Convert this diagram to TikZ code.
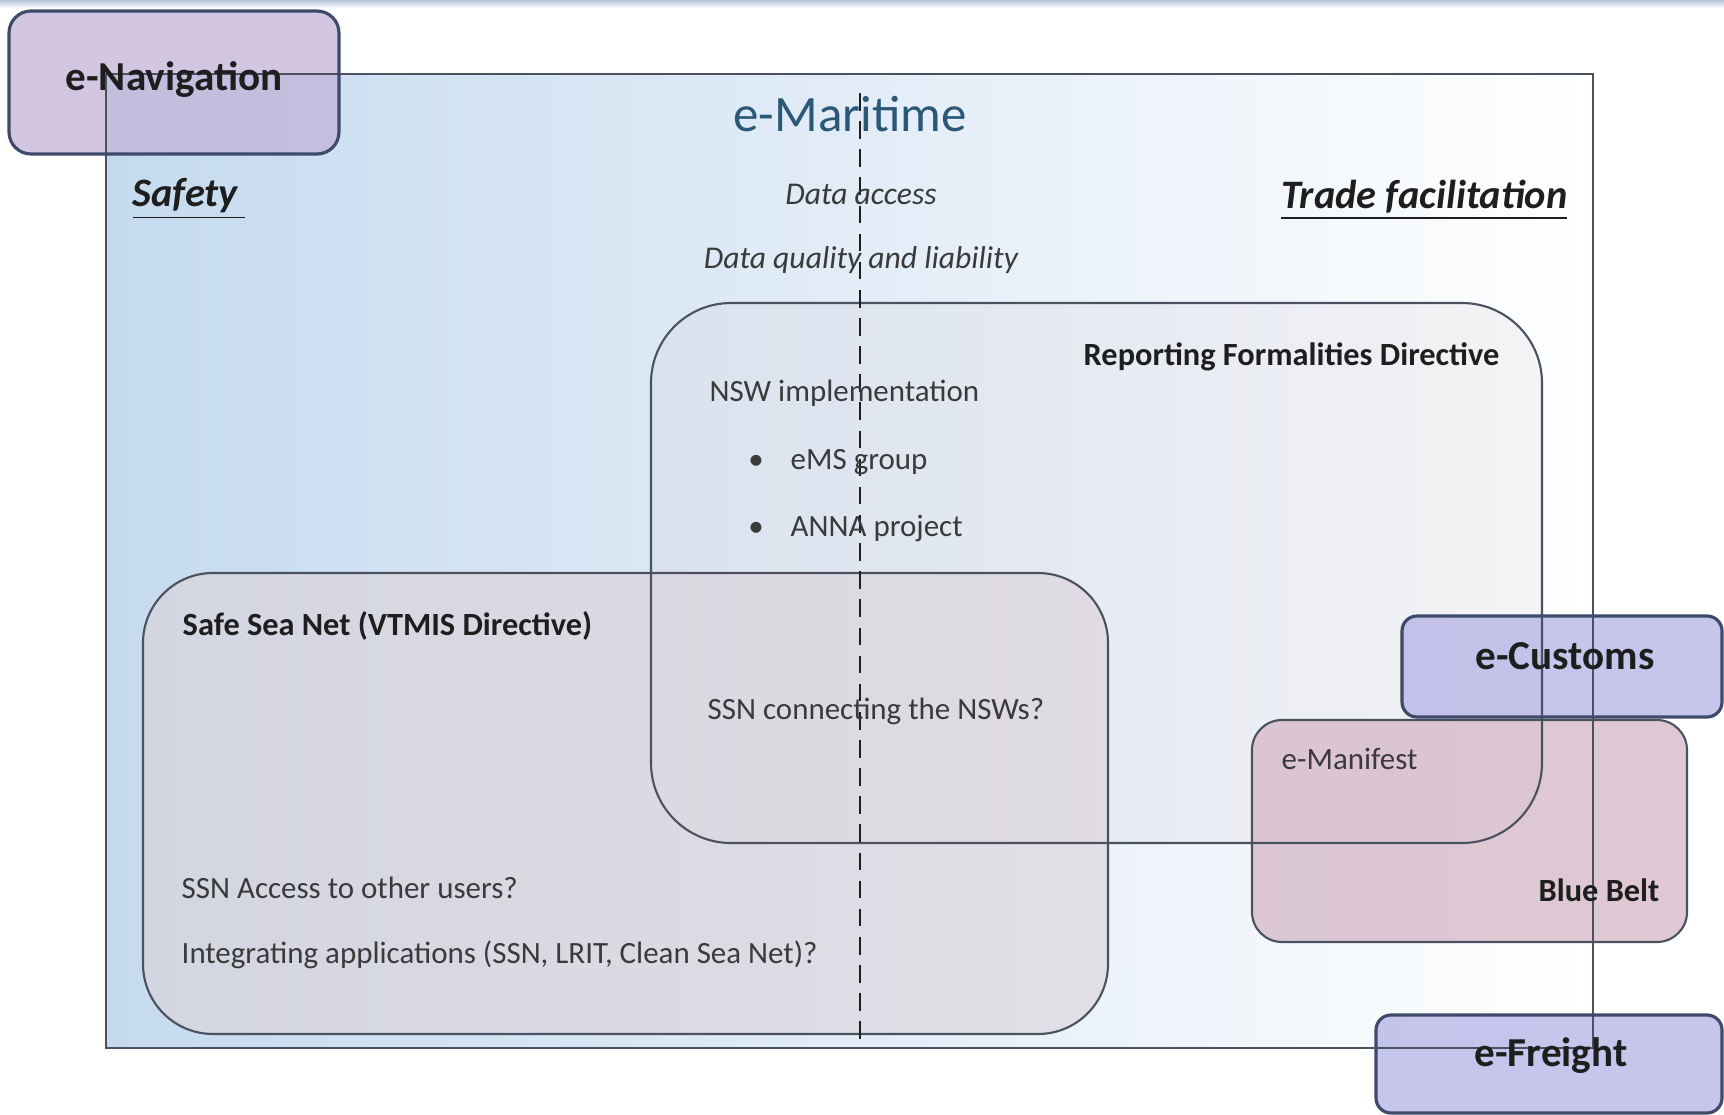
\documentclass[tikz,border=0pt]{standalone}
\usepackage{fontspec}
\setmainfont{Carlito}
\definecolor{seablue}{HTML}{C5DAEF}
\definecolor{bandblue}{HTML}{B4C3DA}
\definecolor{navlilac}{HTML}{C3B3D8}
\definecolor{lilac}{HTML}{B4B2E6}
\definecolor{beltpink}{HTML}{D7BBCA}
\definecolor{formgray}{HTML}{D6D0D8}
\definecolor{ssngray}{HTML}{DCD2D8}
\definecolor{edgegray}{HTML}{4A5262}
\definecolor{edgeblue}{HTML}{3D4A6A}
\definecolor{txtgray}{HTML}{3A3A3A}
\definecolor{txtdark}{HTML}{1E1E1E}
\definecolor{titleblue}{HTML}{2C5878}
\begin{document}
\begin{tikzpicture}[x=0.01cm, y=-0.01cm,
    every node/.style={inner sep=0pt, text=txtgray},
    body/.style={font=\fontsize{8.8}{10.5}\selectfont},
    heading/.style={font=\bfseries\fontsize{9.2}{11}\selectfont, text=txtdark},
    aside/.style={font=\itshape\fontsize{9}{11}\selectfont},
    theme/.style={font=\bfseries\itshape\fontsize{11.5}{13}\selectfont, text=txtdark},
    fieldlabel/.style={font=\bfseries\fontsize{11.7}{13}\selectfont, text=txtdark},
    zone/.style={draw=edgegray, line width=0.6pt},
    fieldedge/.style={draw=edgeblue, line width=0.9pt}
]
    % Page and frame
    \useasboundingbox (0,0) rectangle (1724,1115);
    \fill[white] (0,0) rectangle (1724,1115);
    \shade[top color=bandblue, bottom color=white] (0,0) rectangle (1724,8);
    \shade[left color=seablue, middle color=seablue!65!white, right color=white] (106,74) rectangle (1594,1048);
    % Fills of the areas
    \fill[formgray, fill opacity=0.22, rounded corners=0.8cm] (651,303) rectangle (1542,843);
    \fill[ssngray, fill opacity=0.6, rounded corners=0.7cm] (143,573) rectangle (1108,1034);
    \fill[beltpink, fill opacity=0.8, rounded corners=0.3cm] (1252,720) rectangle (1687,942);
    \fill[navlilac, fill opacity=0.75, rounded corners=0.22cm] (9,11) rectangle (339,154);
    \fill[lilac, fill opacity=0.75, rounded corners=0.15cm] (1402,616) rectangle (1722,717);
    \fill[lilac, fill opacity=0.75, rounded corners=0.15cm] (1376,1015) rectangle (1722,1113);
    % Outlines
    \draw[zone, line width=0.7pt] (106,74) rectangle (1593,1048);
    \draw[zone, rounded corners=0.8cm] (651,303) rectangle (1542,843);
    \draw[zone, rounded corners=0.7cm] (143,573) rectangle (1108,1034);
    \draw[zone, rounded corners=0.3cm] (1252,720) rectangle (1687,942);
    \draw[fieldedge, rounded corners=0.22cm] (9,11) rectangle (339,154);
    \draw[fieldedge, rounded corners=0.15cm] (1402,616) rectangle (1722,717);
    \draw[fieldedge, rounded corners=0.15cm] (1376,1015) rectangle (1722,1113);
    % Divider
    \draw[txtdark, line width=0.7pt, dash pattern=on 5pt off 3pt] (860,93) -- (860,1048);
    % Labels
    \node[fieldlabel] (nav) at (174,80) {e-Navigation};
    \node[font=\fontsize{14.5}{17}\selectfont, text=titleblue] (maritime) at (850,114) {e-Maritime};
    \node[theme, anchor=west] (safety) at (132,199) {\underline{Safety\,}};
    \node[theme, anchor=east] (trade) at (1568,200) {\underline{Trade facilitation}};
    \node[aside] (access) at (861,194) {Data access};
    \node[aside] (quality) at (861,260) {Data quality and liability};
    \node[heading, anchor=west] (rfd) at (1083,357) {Reporting Formalities Directive};
    \node[body, anchor=west] (nsw) at (709,393) {NSW implementation};
    \node[body, anchor=west] (ems) at (790,462) {eMS group};
    \node[body, anchor=west] (anna) at (790,529) {ANNA project};
    \node[body] (dot1) at (756,462) {\textbullet};
    \node[body] (dot2) at (756,529) {\textbullet};
    \node[heading, anchor=west] (ssn) at (182,626) {Safe Sea Net (VTMIS Directive)};
    \node[body, anchor=west] (connect) at (707,711) {SSN connecting the NSWs?};
    \node[body, anchor=west] (users) at (181,888) {SSN Access to other users?};
    \node[body, anchor=west] (apps) at (181,955) {Integrating applications (SSN, LRIT, Clean Sea Net)?};
    \node[body, anchor=west] (manifest) at (1281,759) {e-Manifest};
    \node[heading, anchor=east] (belt) at (1660,890) {Blue Belt};
    \node[fieldlabel] (customs) at (1565,656) {e-Customs};
    \node[fieldlabel] (freight) at (1551,1056) {e-Freight};
\end{tikzpicture}
\end{document}
